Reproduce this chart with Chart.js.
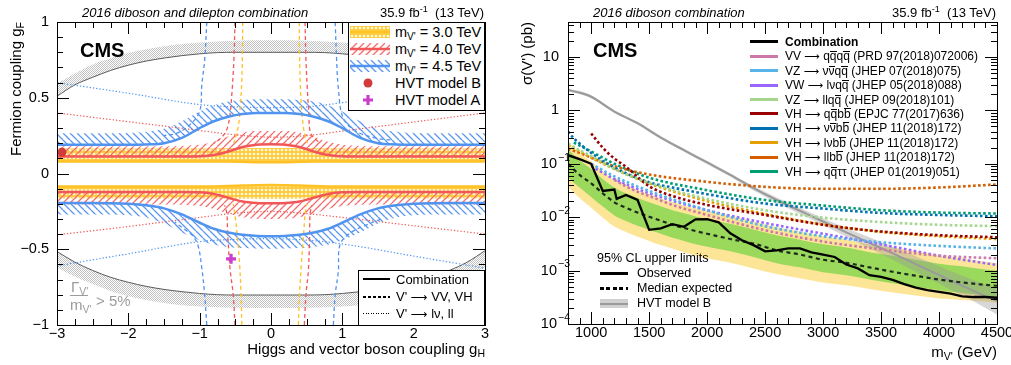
<!DOCTYPE html>
<html><head><meta charset="utf-8">
<title>CMS diboson combination</title>
<script src="https://cdn.jsdelivr.net/npm/chart.js@4.4.1/dist/chart.umd.min.js"></script>
<style>
html,body{margin:0;padding:0;background:#fff}
body{width:1011px;height:365px;position:relative;overflow:hidden;font-family:'Liberation Sans',Arial,Helvetica,sans-serif;color:#000}
canvas.chart{position:absolute;top:0}
.t{position:absolute;white-space:nowrap;line-height:1}
.it{font-style:italic}
.b{font-weight:bold}
.ov{display:inline-block;border-top:1px solid currentColor;line-height:0.74}
.ovb{display:inline-block;border-top:1px solid currentColor;line-height:0.92}
.ar{font-family:'DejaVu Sans',sans-serif;font-size:90%}
sub{font-size:70%;vertical-align:-0.3em;line-height:0}
sup{font-size:70%;vertical-align:0.55em;line-height:0}
.box{position:absolute;background:#fff;border:1px solid #000;box-sizing:border-box}
.ln{position:absolute}
.rot{position:absolute;width:300px;text-align:right;transform:rotate(-90deg);transform-origin:0 0;white-space:nowrap;line-height:1}
.gr{color:#9c9c9c}
</style></head><body>
<canvas id="cL" class="chart" width="505" height="365" style="left:0"></canvas>
<canvas id="cR" class="chart" width="506" height="365" style="left:505px"></canvas>

<!-- left panel text -->
<div class="t it" style="left:82px;top:6px;font-size:13px">2016 diboson and dilepton combination</div>
<div class="t" style="right:527px;top:6px;font-size:13px">35.9 fb<sup>-1</sup>&nbsp;&nbsp;(13 TeV)</div>
<div class="t b" style="left:80px;top:40px;font-size:20px">CMS</div>
<div class="rot" style="left:8px;top:322px;font-size:15px">Fermion coupling g<sub>F</sub></div>
<div class="t" style="right:526px;top:341px;font-size:15px">Higgs and vector boson coupling g<sub>H</sub></div>
<div class="t gr" style="left:71px;top:279px;font-size:15px">Γ<sub>V'</sub></div>
<div class="ln" style="left:70px;top:295px;width:18px;height:1px;background:#9c9c9c"></div>
<div class="t gr" style="left:70px;top:297px;font-size:15px">m<sub>V'</sub></div>
<div class="t gr" style="left:96px;top:293px;font-size:15px">&gt; 5%</div>

<div class="box" style="left:348px;top:22px;width:137px;height:89px"></div>
<div class="t" style="left:395px;top:24.5px;font-size:14.5px">m<sub>V'</sub> = 3.0 TeV</div>
<div class="t" style="left:395px;top:41.5px;font-size:14.5px">m<sub>V'</sub> = 4.0 TeV</div>
<div class="t" style="left:395px;top:58.5px;font-size:14.5px">m<sub>V'</sub> = 4.5 TeV</div>
<div class="t" style="left:395px;top:76px;font-size:14.5px">HVT model B</div>
<div class="t" style="left:395px;top:93px;font-size:14.5px">HVT model A</div>

<div class="box" style="left:358px;top:270px;width:127px;height:56px"></div>
<div class="t" style="left:396px;top:273px;font-size:13px">Combination</div>
<div class="t" style="left:396px;top:290px;font-size:13px">V' <span class="ar">⟶</span> VV, VH</div>
<div class="t" style="left:396px;top:307px;font-size:13px">V' <span class="ar">⟶</span> lν, ll</div>
<div class="ln" style="left:363px;top:278px;width:27px;height:2px;background:#000"></div>
<div class="ln" style="left:363px;top:296px;width:27px;height:1.5px;background:repeating-linear-gradient(90deg,#000 0 3px,transparent 3px 5px)"></div>
<div class="ln" style="left:363px;top:313px;width:27px;height:1px;background:repeating-linear-gradient(90deg,#000 0 1px,transparent 1px 2.5px)"></div>

<!-- right panel text -->
<div class="t it" style="left:593px;top:6px;font-size:13px">2016 diboson combination</div>
<div class="t" style="right:15px;top:6px;font-size:13px">35.9 fb<sup>-1</sup>&nbsp;&nbsp;(13 TeV)</div>
<div class="t b" style="left:593px;top:40px;font-size:20px">CMS</div>
<div class="rot" style="left:519px;top:322px;font-size:15px">σ(V') (pb)</div>
<div class="t" style="right:14px;top:344px;font-size:15px">m<sub>V'</sub> (GeV)</div>

<div class="t" style="left:597px;top:252px;font-size:12.5px">95% CL upper limits</div>
<div class="ln" style="left:600px;top:272px;width:28px;height:2.5px;background:#000"></div>
<div class="t" style="left:637px;top:267px;font-size:12.5px">Observed</div>
<div class="ln" style="left:600px;top:287px;width:28px;height:2.5px;background:repeating-linear-gradient(90deg,#000 0 4px,transparent 4px 6.5px)"></div>
<div class="t" style="left:637px;top:282px;font-size:12.5px">Median expected</div>
<div class="ln" style="left:600px;top:299px;width:28px;height:9px;background:#d0d0d0"></div>
<div class="ln" style="left:600px;top:302.5px;width:28px;height:2px;background:#9a9a9a"></div>
<div class="t" style="left:637px;top:297px;font-size:12.5px">HVT model B</div>

<script>
const FONT = "'Liberation Sans', Arial, sans-serif";

// ================= LEFT PANEL DATA (g_H, g_F) =================
const gHgrid = [-3,-2.5,-2,-1.75,-1.5,-1.25,-1,-0.8,-0.6,-0.4,-0.2,0,0.2,0.4,0.6,0.8,1,1.25,1.5,1.75,2,2.5,3];
const m30PosLine = [0.08,0.08,0.08,0.08,0.08,0.08,0.08,0.08,0.079,0.077,0.075,0.074,0.075,0.077,0.079,0.08,0.08,0.08,0.08,0.08,0.08,0.08,0.08];
const m30PosEdge = [0.165,0.165,0.165,0.165,0.165,0.165,0.165,0.165,0.166,0.167,0.168,0.168,0.168,0.167,0.166,0.165,0.165,0.165,0.165,0.165,0.165,0.165,0.165];
const m30NegLine = [-0.086,-0.086,-0.086,-0.086,-0.086,-0.086,-0.086,-0.085,-0.083,-0.08,-0.077,-0.076,-0.077,-0.08,-0.083,-0.085,-0.086,-0.086,-0.086,-0.086,-0.086,-0.086,-0.086];
const m30NegEdge = [-0.165,-0.165,-0.165,-0.165,-0.165,-0.165,-0.165,-0.165,-0.166,-0.167,-0.168,-0.168,-0.168,-0.167,-0.166,-0.165,-0.165,-0.165,-0.165,-0.165,-0.165,-0.165,-0.165];
const m40PosLine = [0.112,0.112,0.112,0.112,0.112,0.112,0.114,0.122,0.145,0.175,0.19,0.193,0.19,0.175,0.145,0.122,0.114,0.112,0.112,0.112,0.112,0.112,0.112];
const m40PosEdge = [0.18,0.18,0.18,0.18,0.18,0.182,0.19,0.21,0.245,0.27,0.28,0.28,0.28,0.27,0.245,0.21,0.19,0.182,0.18,0.18,0.18,0.18,0.18];
const m40NegLine = [-0.122,-0.122,-0.122,-0.122,-0.122,-0.122,-0.124,-0.135,-0.16,-0.185,-0.195,-0.197,-0.195,-0.185,-0.16,-0.135,-0.124,-0.122,-0.122,-0.122,-0.122,-0.122,-0.122];
const m40NegEdge = [-0.205,-0.205,-0.205,-0.205,-0.205,-0.207,-0.215,-0.235,-0.265,-0.288,-0.298,-0.3,-0.298,-0.288,-0.265,-0.235,-0.215,-0.207,-0.205,-0.205,-0.205,-0.205,-0.205];
const m45PosLine = [0.19,0.19,0.19,0.192,0.2,0.235,0.3,0.345,0.375,0.393,0.399,0.4,0.399,0.393,0.375,0.345,0.3,0.235,0.2,0.192,0.19,0.19,0.19];
const m45PosEdge = [0.265,0.265,0.268,0.275,0.295,0.345,0.41,0.45,0.475,0.485,0.49,0.49,0.49,0.485,0.475,0.45,0.41,0.345,0.295,0.275,0.268,0.265,0.265];
const m45NegLine = [-0.195,-0.195,-0.2,-0.21,-0.23,-0.27,-0.325,-0.365,-0.39,-0.405,-0.412,-0.415,-0.412,-0.405,-0.39,-0.365,-0.325,-0.27,-0.23,-0.21,-0.2,-0.195,-0.195];
const m45NegEdge = [-0.27,-0.27,-0.275,-0.29,-0.33,-0.39,-0.44,-0.47,-0.485,-0.492,-0.495,-0.497,-0.495,-0.492,-0.485,-0.47,-0.44,-0.39,-0.33,-0.29,-0.275,-0.27,-0.27];

const gHwidth = [-3,-2.75,-2.5,-2.25,-2,-1.75,-1.5,-1.25,-1,-0.75,-0.5,0,0.5,0.75,1,1.25,1.5,1.75,2,2.25,2.5,2.75,3];
const widthPosLine = [0.51,0.585,0.635,0.68,0.715,0.742,0.762,0.778,0.79,0.798,0.8,0.8,0.8,0.798,0.79,0.778,0.762,0.742,0.715,0.68,0.635,0.585,0.51];
const widthPosEdge = [0.595,0.66,0.72,0.76,0.795,0.82,0.84,0.855,0.865,0.872,0.877,0.88,0.877,0.872,0.865,0.855,0.84,0.82,0.795,0.76,0.72,0.66,0.595];
const widthNegLine = [-0.515,-0.585,-0.64,-0.685,-0.718,-0.745,-0.765,-0.78,-0.792,-0.8,-0.802,-0.802,-0.802,-0.8,-0.792,-0.78,-0.765,-0.745,-0.718,-0.685,-0.64,-0.585,-0.51];
const widthNegEdge = [-0.62,-0.68,-0.73,-0.775,-0.81,-0.835,-0.855,-0.87,-0.878,-0.883,-0.886,-0.888,-0.886,-0.883,-0.878,-0.87,-0.855,-0.835,-0.81,-0.775,-0.73,-0.68,-0.62];

// V' -> VV, VH (dashed) contours, [gH, gF]
const vv30LeftPos  = [[-0.397,1.0],[-0.40,0.8],[-0.41,0.6],[-0.43,0.45],[-0.455,0.32],[-0.49,0.25],[-0.52,0.2]];
const vv30RightPos = [[0.397,1.0],[0.40,0.8],[0.41,0.6],[0.425,0.45],[0.45,0.32],[0.48,0.24],[0.51,0.2]];
const vv30LeftNeg  = [[-0.41,-1.0],[-0.42,-0.8],[-0.44,-0.6],[-0.47,-0.43],[-0.505,-0.27],[-0.53,-0.2]];
const vv30RightNeg = [[0.383,-1.0],[0.40,-0.8],[0.425,-0.6],[0.453,-0.43],[0.477,-0.27],[0.5,-0.2]];
const vv40LeftPos  = [[-0.505,1.0],[-0.52,0.75],[-0.545,0.55],[-0.575,0.39],[-0.62,0.29],[-0.7,0.235],[-0.8,0.2]];
const vv40RightPos = [[0.477,1.0],[0.49,0.75],[0.51,0.55],[0.53,0.4],[0.547,0.28],[0.6,0.235],[0.7,0.2]];
const vv40LeftNeg  = [[-0.505,-1.0],[-0.53,-0.8],[-0.575,-0.625],[-0.607,-0.394],[-0.62,-0.262],[-0.65,-0.21]];
const vv40RightNeg = [[0.467,-1.0],[0.49,-0.8],[0.523,-0.647],[0.54,-0.45],[0.547,-0.273],[0.57,-0.21]];
const vv45LeftPos  = [[-0.90,1.0],[-0.93,0.75],[-0.97,0.585],[-1.0,0.41],[-1.14,0.32],[-1.32,0.266],[-1.5,0.25]];
const vv45RightPos = [[0.90,1.0],[0.92,0.75],[0.944,0.563],[1.013,0.365],[1.2,0.277],[1.48,0.233],[1.7,0.22]];
const vv45LeftNeg  = [[-0.90,-1.0],[-0.93,-0.8],[-0.97,-0.625],[-1.02,-0.48],[-1.09,-0.415],[-1.18,-0.38],[-1.35,-0.32]];
const vv45RightNeg = [[0.874,-1.0],[0.90,-0.8],[0.944,-0.647],[0.967,-0.47],[1.107,-0.394],[1.34,-0.339],[1.55,-0.3]];
// V' -> lv, ll (dotted)
const ll40Pos = [[-3,0.40],[-2,0.342],[-1,0.284],[-0.5,0.255],[0,0.24],[0.5,0.25],[1,0.28],[2,0.34],[3,0.40]];
const ll40Neg = [[-3,-0.405],[-2,-0.35],[-1,-0.29],[-0.5,-0.262],[0,-0.25],[0.5,-0.265],[1,-0.29],[2,-0.345],[3,-0.40]];
const ll45Pos = [[-3,0.60],[-2,0.53],[-1,0.455],[-0.5,0.44],[0,0.435],[0.5,0.44],[1,0.468],[2,0.535],[3,0.60]];
const ll45Neg = [[-3,-0.61],[-2,-0.53],[-1,-0.45],[-0.5,-0.435],[0,-0.43],[0.5,-0.44],[1,-0.465],[2,-0.545],[3,-0.625]];

const hvtBPoint = [[-2.93, 0.14]];
const hvtAPoint = [[-0.56, -0.563]];

const lXTicks = [-3,-2,-1,0,1,2,3];
const lXLabels = ['−3','−2','−1','0','1','2','3'];
const lYTicks = [-1,-0.5,0,0.5,1];
const lYLabels = ['−1','−0.5','0','0.5','1'];

// ================= RIGHT PANEL DATA (m in GeV, sigma in pb) =================
const bandMass = [800,900,1000,1100,1200,1300,1400,1500,1600,1700,1800,1900,2000,2200,2400,2600,2800,3000,3200,3400,3600,3800,4000,4200,4400,4500];
const expXsec  = [0.10,0.062,0.043,0.028,0.019,0.015,0.0122,0.0102,0.0086,0.0072,0.0063,0.0055,0.0049,0.0039,0.0032,0.0024,0.002,0.0016,0.0014,0.00115,0.00095,0.0008,0.00068,0.0006,0.00054,0.00052];
const sig1Up   = [0.19,0.115,0.08,0.052,0.036,0.028,0.023,0.019,0.016,0.0135,0.0118,0.0103,0.0092,0.0075,0.0059,0.0046,0.0038,0.0031,0.0027,0.0022,0.0019,0.0016,0.00135,0.0012,0.00105,0.00102];
const sig1Dn   = [0.055,0.036,0.024,0.0158,0.0108,0.0085,0.0069,0.0058,0.0049,0.0041,0.0036,0.0031,0.0028,0.0023,0.0018,0.00138,0.00115,0.00093,0.00082,0.00068,0.00058,0.0005,0.00043,0.00038,0.00034,0.00031];
const sig2Up   = [0.26,0.16,0.11,0.072,0.05,0.039,0.032,0.027,0.0225,0.019,0.0166,0.0145,0.013,0.0106,0.0083,0.0065,0.0054,0.0044,0.0038,0.0031,0.0027,0.0023,0.0019,0.0017,0.00145,0.00138];
const sig2Dn   = [0.036,0.023,0.015,0.0098,0.0067,0.0053,0.0043,0.0036,0.003,0.0026,0.0022,0.0019,0.0017,0.0014,0.0011,0.00086,0.00072,0.0006,0.00053,0.00045,0.00039,0.00034,0.0003,0.00028,0.00026,0.00025];

const obsMass = [800,900,1000,1100,1200,1220,1300,1400,1500,1600,1700,1800,1900,2000,2100,2200,2300,2400,2500,2600,2700,2800,2900,3000,3100,3200,3300,3400,3500,3600,3700,3800,3900,4000,4100,4200,4300,4400,4500];
const obsXsec = [0.145,0.122,0.10,0.031,0.033,0.022,0.026,0.021,0.0058,0.0062,0.0074,0.0066,0.0091,0.0092,0.008,0.005,0.0037,0.003,0.0023,0.0024,0.0026,0.0026,0.0022,0.002,0.0018,0.0013,0.0011,0.00082,0.00076,0.00067,0.00056,0.00048,0.00043,0.0004,0.00037,0.00033,0.00032,0.00032,0.00031];

const hvtMass = [800,900,1000,1200,1400,1600,1800,2000,2200,2400,2600,2800,3000,3200,3400,3600,3800,4000,4200,4400,4500];
const hvtXsec = [2.4,2.15,1.8,0.95,0.575,0.31,0.18,0.106,0.062,0.035,0.021,0.0132,0.0083,0.0052,0.0033,0.0021,0.00132,0.00083,0.00052,0.00033,0.00027];
const hvtUp   = [2.57,2.3,1.92,1.01,0.61,0.33,0.192,0.114,0.0665,0.0385,0.0235,0.015,0.0096,0.0063,0.0042,0.0028,0.00185,0.0012,0.0008,0.00055,0.00048];
const hvtDn   = [2.25,2.0,1.69,0.89,0.54,0.29,0.168,0.098,0.057,0.0315,0.0185,0.0115,0.0071,0.0043,0.0026,0.0016,0.00095,0.00057,0.00034,0.0002,0.00015];

const qqqqMass = [1200,1300,1400,1500,1700,2000,2500,3000,3500,4000,4500];
const qqqqXsec = [0.05,0.038,0.03,0.025,0.017,0.011,0.0057,0.0035,0.0025,0.0019,0.0017];
const nnqqMass = [1000,1200,1500,2000,2500,3000,3500,4000,4500];
const nnqqXsec = [0.10,0.058,0.031,0.0135,0.0068,0.0044,0.0034,0.0029,0.0026];
const lnqqMass = [1000,1200,1500,2000,2500,3000,3500,4000,4500];
const lnqqXsec = [0.09,0.052,0.028,0.0135,0.0078,0.0049,0.0031,0.0019,0.00127];
const llqqMass = [800,900,1000,1200,1500,2000,2500,3000,3500,4000,4500];
const llqqXsec = [0.24,0.18,0.14,0.08,0.044,0.022,0.0135,0.0098,0.0081,0.0072,0.0068];
const qqbbMass = [1000,1100,1200,1300,1500,1700,2000,2500,3000,3500,4000,4500];
const qqbbXsec = [0.37,0.2,0.125,0.088,0.038,0.025,0.017,0.011,0.0072,0.0054,0.0046,0.0042];
const nnbbMass = [800,850,900,1000,1200,1500,1700,2000,2500,3000,3500,4000,4500];
const nnbbXsec = [0.4,0.3,0.24,0.16,0.085,0.045,0.036,0.027,0.018,0.0145,0.012,0.011,0.0104];
const lnbbMass = [800,900,1000,1200,1500,2000,2500,3000,3500,4000,4500];
const lnbbXsec = [0.22,0.17,0.13,0.08,0.043,0.02,0.0115,0.0073,0.0053,0.0044,0.0039];
const llbbMass = [800,900,1000,1200,1500,2000,2500,3000,3500,4000,4500];
const llbbXsec = [0.19,0.16,0.13,0.09,0.063,0.046,0.037,0.034,0.034,0.036,0.041];
const qqttMass = [850,1000,1200,1500,2000,2500,3000,3500,4000,4500];
const qqttXsec = [0.25,0.17,0.1,0.055,0.032,0.021,0.0165,0.0135,0.0122,0.0117];

const AR = ' <span class="ar">⟶</span> ';
const QB = '<span class="ov">q</span>', NB = '<span class="ov">ν</span>', BB = '<span class="ovb">b</span>';
const chanNames = [
 'VV' + AR + 'q' + QB + 'q' + QB + ' (PRD 97(2018)072006)',
 'VZ' + AR + 'ν' + NB + 'q' + QB + ' (JHEP 07(2018)075)',
 'VW' + AR + 'lνq' + QB + ' (JHEP 05(2018)088)',
 'VZ' + AR + 'llq' + QB + ' (JHEP 09(2018)101)',
 'VH' + AR + 'q' + QB + 'b' + BB + ' (EPJC 77(2017)636)',
 'VH' + AR + 'ν' + NB + 'b' + BB + ' (JHEP 11(2018)172)',
 'VH' + AR + 'lνb' + BB + ' (JHEP 11(2018)172)',
 'VH' + AR + 'llb' + BB + ' (JHEP 11(2018)172)',
 'VH' + AR + 'q' + QB + 'ττ (JHEP 01(2019)051)'
];
const chanColors = ['#cc79a7','#56b4e9','#9966ff','#a4d68e','#990000','#0072b2','#e69f00','#d55e00','#009e73'];
const chanMass = [qqqqMass,nnqqMass,lnqqMass,llqqMass,qqbbMass,nnbbMass,lnbbMass,llbbMass,qqttMass];
const chanXsec = [qqqqXsec,nnqqXsec,lnqqXsec,llqqXsec,qqbbXsec,nnbbXsec,lnbbXsec,llbbXsec,qqttXsec];

const rXTicks = [1000,1500,2000,2500,3000,3500,4000,4500];
const rXLabels = ['1000','1500','2000','2500','3000','3500','4000','4500'];
const rYTicks = [1e-4,1e-3,1e-2,1e-1,1,10];
const rYBase = ['10','10','10','10','1','10'];
const rYExp = ['−4','−3','−2','−1','',''];

// ================= helpers =================
const xy = (xs, ys) => xs.map((x, i) => ({x, y: ys[i]}));
const pr = arr => arr.map(p => ({x: p[0], y: p[1]}));

function hatchPattern(color, dir, s, lw) {
  const c = document.createElement('canvas'); c.width = s; c.height = s;
  const g = c.getContext('2d');
  g.strokeStyle = color; g.lineWidth = lw;
  g.beginPath();
  for (let k = -1; k <= 1; k++) {
    if (dir > 0) { g.moveTo(k * s, s); g.lineTo(k * s + s, 0); }
    else { g.moveTo(k * s, 0); g.lineTo(k * s + s, s); }
  }
  g.stroke();
  return g.createPattern(c, 'repeat');
}
function dotPattern(bg, dot, s, r) {
  const c = document.createElement('canvas'); c.width = s; c.height = s;
  const g = c.getContext('2d');
  g.fillStyle = bg; g.fillRect(0, 0, s, s);
  g.fillStyle = dot; g.beginPath(); g.arc(s / 2, s / 2, r, 0, Math.PI * 2); g.fill();
  return g.createPattern(c, 'repeat');
}
function stipplePattern(color) {
  const c = document.createElement('canvas'); c.width = 2; c.height = 2;
  const g = c.getContext('2d');
  g.fillStyle = color; g.fillRect(0, 0, 1, 1); g.fillRect(1, 1, 1, 1);
  return g.createPattern(c, 'repeat');
}

const Y_COL = '#ffc125', R_COL = '#f25757', B_COL = '#5094f0';
const patYellow = dotPattern('#ffca3a', '#fff8e0', 4, 1.35);
const patRed = hatchPattern('#f56b6b', 1, 7, 1.3);
const patBlue = hatchPattern('#5b97ef', -1, 7, 1.3);
const patGray = stipplePattern('#c2c2c2');

// ROOT-style frame and inward ticks
const rootFrame = {
  id: 'rootFrame',
  afterDatasetsDraw(chart, args, o) {
    const {ctx, chartArea: a} = chart;
    const xs = chart.scales.x, ys = chart.scales.y;
    const L = a.left, R = a.right, T = a.top, B = a.bottom;
    ctx.save();
    ctx.strokeStyle = '#000'; ctx.lineWidth = 1;
    ctx.beginPath();
    const vx = (v, len) => { const p = Math.round(xs.getPixelForValue(v)) + 0.5; ctx.moveTo(p, B); ctx.lineTo(p, B - len); ctx.moveTo(p, T); ctx.lineTo(p, T + len); };
    const vy = (v, len) => { const p = Math.round(ys.getPixelForValue(v)) + 0.5; ctx.moveTo(L, p); ctx.lineTo(L + len, p); ctx.moveTo(R, p); ctx.lineTo(R - len, p); };
    o.xMajor.forEach(v => vx(v, o.maj));
    o.xMinor.forEach(v => vx(v, o.min));
    o.yMajor.forEach(v => vy(v, o.maj));
    o.yMinor.forEach(v => vy(v, o.min));
    ctx.stroke();
    ctx.strokeRect(Math.round(L) + 0.5, Math.round(T) + 0.5, Math.round(R - L), Math.round(B - T));
    if (o.expLabels) {
      ctx.fillStyle = '#000'; ctx.textBaseline = 'middle';
      rYTicks.forEach((v, i) => {
        const y = ys.getPixelForValue(v);
        const ex = rYExp[i];
        const xr = L - (ex ? 11 : 9);
        ctx.font = '14.5px ' + FONT; ctx.textAlign = 'right';
        ctx.fillText(rYBase[i], xr, y);
        if (ex) { ctx.font = '10.5px ' + FONT; ctx.textAlign = 'left'; ctx.fillText(ex, xr + 1, y - 6); }
      });
    }
    ctx.restore();
  }
};

// ================= LEFT CHART =================
const dsL = [];
function addL(o) {
  dsL.push(Object.assign({pointRadius: 0, borderWidth: 0, fill: false, borderColor: 'rgba(0,0,0,0)', backgroundColor: 'rgba(0,0,0,0)'}, o));
  return dsL.length - 1;
}
addL({data: pr(hvtBPoint), showLine: false, pointRadius: 4.5, pointBackgroundColor: '#d13b3b', pointBorderColor: '#d13b3b', order: 0});
addL({data: pr(hvtAPoint), showLine: false, pointStyle: 'cross', pointRadius: 5, pointBorderWidth: 3.2, pointBorderColor: '#cc3fcc', order: 0});

function bandL(xs, line, edge, color, pat, ordBand) {
  const li = addL({data: xy(xs, line), borderColor: color, borderWidth: 2.5, cubicInterpolationMode: 'monotone', order: 1});
  addL({data: xy(xs, edge), fill: li, backgroundColor: pat, cubicInterpolationMode: 'monotone', order: ordBand});
}
bandL(gHgrid, m45PosLine, m45PosEdge, B_COL, patBlue, 4);
bandL(gHgrid, m45NegLine, m45NegEdge, B_COL, patBlue, 4);
bandL(gHgrid, m40PosLine, m40PosEdge, R_COL, patRed, 5);
bandL(gHgrid, m40NegLine, m40NegEdge, R_COL, patRed, 5);
bandL(gHgrid, m30PosLine, m30PosEdge, Y_COL, patYellow, 6);
bandL(gHgrid, m30NegLine, m30NegEdge, Y_COL, patYellow, 6);

[[vv30LeftPos, Y_COL],[vv30RightPos, Y_COL],[vv30LeftNeg, Y_COL],[vv30RightNeg, Y_COL],
 [vv40LeftPos, R_COL],[vv40RightPos, R_COL],[vv40LeftNeg, R_COL],[vv40RightNeg, R_COL],
 [vv45LeftPos, B_COL],[vv45RightPos, B_COL],[vv45LeftNeg, B_COL],[vv45RightNeg, B_COL]].forEach(([c, col]) => {
  addL({data: pr(c), borderColor: col, borderWidth: 1.3, borderDash: [4, 3], tension: 0.35, order: 3});
});
[[ll40Pos, R_COL],[ll40Neg, R_COL],[ll45Pos, B_COL],[ll45Neg, B_COL]].forEach(([c, col]) => {
  addL({data: pr(c), borderColor: col, borderWidth: 1.2, borderDash: [1.3, 2], cubicInterpolationMode: 'monotone', order: 3});
});
const gpl = addL({data: xy(gHwidth, widthPosLine), borderColor: '#5a5a5a', borderWidth: 1, cubicInterpolationMode: 'monotone', order: 7});
addL({data: xy(gHwidth, widthPosEdge), fill: gpl, backgroundColor: patGray, cubicInterpolationMode: 'monotone', order: 8});
const gnl = addL({data: xy(gHwidth, widthNegLine), borderColor: '#5a5a5a', borderWidth: 1, cubicInterpolationMode: 'monotone', order: 7});
addL({data: xy(gHwidth, widthNegEdge), fill: gnl, backgroundColor: patGray, cubicInterpolationMode: 'monotone', order: 8});

const lXMinor = [], lYMinor = [];
for (let v = -3; v <= 3.001; v += 0.25) if (Math.abs(v - Math.round(v)) > 1e-6) lXMinor.push(v);
for (let v = -1; v <= 1.001; v += 0.1) if (Math.abs(v * 2 - Math.round(v * 2)) > 1e-6) lYMinor.push(v);

new Chart(document.getElementById('cL'), {
  type: 'line',
  data: {datasets: dsL},
  options: {
    responsive: false, animation: false, devicePixelRatio: 1, events: [],
    layout: {padding: {left: 0, right: 20, top: 22, bottom: 0}},
    plugins: {legend: {display: false}, tooltip: {enabled: false},
      rootFrame: {xMajor: lXTicks, xMinor: lXMinor, yMajor: lYTicks, yMinor: lYMinor, maj: 12, min: 6}},
    scales: {
      x: {type: 'linear', min: -3, max: 3,
        afterBuildTicks: s => { s.ticks = lXTicks.map(v => ({value: v})); },
        afterFit: s => { s.height = 40; s.paddingLeft = 0; s.paddingRight = 0; },
        grid: {display: false, drawTicks: false}, border: {display: false},
        ticks: {color: '#000', font: {family: FONT, size: 14.5}, padding: 0, maxRotation: 0, autoSkip: false,
          callback: (v, i) => lXLabels[i]}},
      y: {type: 'linear', min: -1, max: 1,
        afterBuildTicks: s => { s.ticks = lYTicks.map(v => ({value: v})); },
        afterFit: s => { s.width = 57; s.paddingTop = 0; s.paddingBottom = 0; },
        grid: {display: false, drawTicks: false}, border: {display: false},
        ticks: {color: '#000', font: {family: FONT, size: 14.5}, padding: 8, autoSkip: false,
          callback: (v, i) => lYLabels[i]}}
    }
  },
  plugins: [rootFrame]
});

// ================= RIGHT CHART =================
const dsR = [];
function addR(o) {
  dsR.push(Object.assign({pointRadius: 0, borderWidth: 0, fill: false, borderColor: 'rgba(0,0,0,0)', backgroundColor: 'rgba(0,0,0,0)'}, o));
  return dsR.length - 1;
}
addR({data: xy(obsMass, obsXsec), borderColor: '#000', borderWidth: 2.3, order: 0});
addR({data: xy(bandMass, expXsec), borderColor: '#1f2a1f', borderWidth: 2.2, borderDash: [4, 3.5], cubicInterpolationMode: 'monotone', order: 1});
chanMass.forEach((m, i) => {
  addR({data: xy(m, chanXsec[i]), borderColor: chanColors[i], borderWidth: 2.6, borderDash: [2.6, 2.4], cubicInterpolationMode: 'monotone', order: 2});
});
addR({data: xy(hvtMass, hvtXsec), borderColor: '#9a9a9a', borderWidth: 2, cubicInterpolationMode: 'monotone', order: 4});
const hvtLo = addR({data: xy(hvtMass, hvtDn), cubicInterpolationMode: 'monotone', order: 5});
addR({data: xy(hvtMass, hvtUp), fill: hvtLo, backgroundColor: 'rgba(150,150,150,0.38)', cubicInterpolationMode: 'monotone', order: 5});
const g1Lo = addR({data: xy(bandMass, sig1Dn), cubicInterpolationMode: 'monotone', order: 8});
addR({data: xy(bandMass, sig1Up), fill: g1Lo, backgroundColor: '#9bd95c', cubicInterpolationMode: 'monotone', order: 8});
const g2Lo = addR({data: xy(bandMass, sig2Dn), cubicInterpolationMode: 'monotone', order: 9});
addR({data: xy(bandMass, sig2Up), fill: g2Lo, backgroundColor: '#fde597', cubicInterpolationMode: 'monotone', order: 9});

const rXMinor = [], rYMinor = [];
for (let v = 800; v <= 4500; v += 100) if (v % 500 !== 0) rXMinor.push(v);
for (let d = -4; d <= 1; d++) for (let k = 2; k <= 9; k++) { const v = k * Math.pow(10, d); if (v <= 45) rYMinor.push(v); }

new Chart(document.getElementById('cR'), {
  type: 'line',
  data: {datasets: dsR},
  options: {
    responsive: false, animation: false, devicePixelRatio: 1, events: [],
    layout: {padding: {left: 0, right: 14, top: 22, bottom: 0}},
    plugins: {legend: {display: false}, tooltip: {enabled: false},
      rootFrame: {xMajor: rXTicks, xMinor: rXMinor, yMajor: rYTicks, yMinor: rYMinor, maj: 12, min: 6, expLabels: true}},
    scales: {
      x: {type: 'linear', min: 800, max: 4500,
        afterBuildTicks: s => { s.ticks = rXTicks.map(v => ({value: v})); },
        afterFit: s => { s.height = 41; s.paddingLeft = 0; s.paddingRight = 0; },
        grid: {display: false, drawTicks: false}, border: {display: false},
        ticks: {color: '#000', font: {family: FONT, size: 14.5}, padding: 0, maxRotation: 0, autoSkip: false,
          callback: (v, i) => rXLabels[i]}},
      y: {type: 'logarithmic', min: 1e-4, max: 45.2,
        afterBuildTicks: s => { s.ticks = rYTicks.map(v => ({value: v})); },
        afterFit: s => { s.width = 63; s.paddingTop = 0; s.paddingBottom = 0; },
        grid: {display: false, drawTicks: false}, border: {display: false},
        ticks: {display: false}}
    }
  },
  plugins: [rootFrame]
});

// ================= legend swatches =================
function swatch(left, cy, w, h, draw) {
  const c = document.createElement('canvas'); c.width = w; c.height = h;
  c.style.cssText = 'position:absolute;left:' + left + 'px;top:' + (cy - h / 2) + 'px';
  document.body.appendChild(c); draw(c.getContext('2d'), w, h);
}
function bandSwatch(pat, col) {
  return (g, w, h) => {
    g.fillStyle = pat; g.fillRect(0, 0, w, h);
    g.strokeStyle = col; g.lineWidth = 2.5; g.beginPath(); g.moveTo(0, h / 2); g.lineTo(w, h / 2); g.stroke();
  };
}
swatch(350, 31.5, 40, 12, bandSwatch(patYellow, Y_COL));
swatch(350, 48.5, 40, 12, bandSwatch(patRed, R_COL));
swatch(350, 65.5, 40, 12, bandSwatch(patBlue, B_COL));
swatch(360, 83, 16, 16, (g) => { g.fillStyle = '#d13b3b'; g.beginPath(); g.arc(8, 8, 4.5, 0, Math.PI * 2); g.fill(); });
swatch(360, 100, 16, 16, (g) => { g.strokeStyle = '#cc3fcc'; g.lineWidth = 3.2; g.beginPath(); g.moveTo(3, 8); g.lineTo(13, 8); g.moveTo(8, 3); g.lineTo(8, 13); g.stroke(); });

// right legend
const legNames = ['<b>Combination</b>'].concat(chanNames);
const legColors = ['#000'].concat(chanColors);
legNames.forEach((nm, i) => {
  const cy = 41.7 + i * 14.45;
  const sw = document.createElement('div');
  sw.className = 'ln'; sw.style.cssText = 'left:750px;top:' + (cy - 1.5) + 'px;width:28px;height:3px;background:' + legColors[i];
  document.body.appendChild(sw);
  const tx = document.createElement('div');
  tx.className = 't'; tx.style.cssText = 'left:785px;top:' + (cy - 6) + 'px;font-size:12px';
  tx.innerHTML = nm;
  document.body.appendChild(tx);
});
</script>
</body></html>
